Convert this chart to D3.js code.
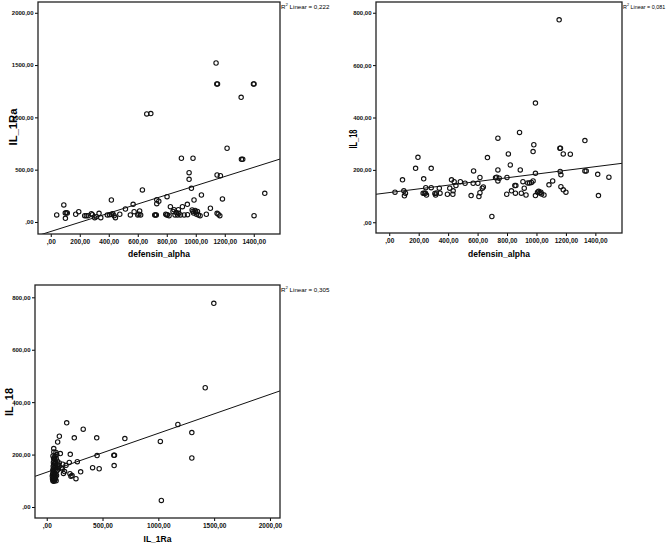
<!DOCTYPE html>
<html>
<head>
<meta charset="utf-8">
<script src="https://cdn.jsdelivr.net/npm/d3@7"></script>
<style>
  body { margin: 0; background: #fff; }
  svg { display: block; font-family: "Liberation Sans", Arial, sans-serif; }
  .tick text { fill: #111; font-weight: bold; }
</style>
</head>
<body>
<div id="chart"></div>
<script>

// defensin_alpha vs IL_1Ra
var defIl1ra = [
  [41,67],[90,163],[100,86],[107,89],[114,86],[101,35],[172,74],[193,98],[234,60],[245,60],
  [257,60],[280,79],[287,70],[303,41],[314,50],[333,83],[345,41],[390,67],[405,70],[418,74],
  [428,79],[437,60],[418,210],[446,41],[476,74],[515,124],[549,67],[568,169],[575,98],[600,67],
  [608,75],[613,105],[620,67],[632,306],[662,1033],[690,1036],[717,67],[722,67],[728,67],[731,175],
  [731,213],[745,198],[793,74],[800,67],[804,70],[802,242],[816,60],[825,146],[843,100],[850,118],
  [857,67],[865,90],[875,67],[883,83],[880,118],[895,67],[908,146],[901,609],[920,67],[942,169],
  [943,70],[954,471],[954,408],[970,322],[981,609],[975,115],[980,100],[985,85],[988,210],[995,110],
  [1000,95],[1005,75],[1012,100],[1018,67],[1030,60],[1039,258],[1073,74],[1101,131],[1140,1520],[1145,1320],
  [1150,1320],[1147,83],[1155,75],[1166,60],[1147,449],[1170,443],[1184,220],[1216,705],[1313,1192],[1315,599],
  [1324,599],[1398,1320],[1402,1320],[1402,60],[1476,274]
];

// defensin_alpha vs IL_18
var defIl18 = [
  [39,115],[90,162],[99,120],[103,101],[110,111],[179,206],[195,248],[234,166],[230,111],[238,111],
  [246,111],[248,132],[253,104],[285,206],[285,132],[310,110],[315,104],[320,112],[340,130],[345,111],
  [395,107],[411,130],[423,162],[432,107],[434,120],[441,155],[453,140],[483,155],[515,149],[556,102],
  [570,149],[573,196],[602,149],[609,98],[616,171],[616,113],[632,130],[639,135],[667,247],[697,22],
  [722,170],[730,172],[747,168],[738,200],[738,158],[738,321],[798,107],[800,171],[809,261],[822,219],
  [830,120],[853,140],[860,140],[857,111],[885,343],[890,200],[897,111],[908,155],[917,130],[929,104],
  [941,150],[953,150],[966,152],[977,270],[977,158],[982,296],[993,455],[993,187],[993,102],[1007,115],
  [1015,118],[1022,112],[1030,115],[1035,108],[1051,104],[1085,143],[1110,158],[1154,773],[1159,283],[1163,283],
  [1161,194],[1166,181],[1166,136],[1182,261],[1182,124],[1200,115],[1230,260],[1329,312],[1329,196],[1338,196],
  [1416,183],[1421,102],[1492,172]
];

// IL_1Ra vs IL_18
var il1raIl18 = [
  [1497,777],[1420,455],[1300,284],[1300,187],[1175,315],[1018,250],[1027,25],[700,261],[601,197],[607,197],
  [604,158],[448,264],[451,196],[470,146],[411,150],[327,297],[304,134],[274,173],[247,264],[179,321],
  [113,270],[98,248],[211,201],[208,127],[217,117],[262,108],[202,170],[173,159],[143,163],[122,204],
  [113,168],[108,153],[63,223],[83,208],[227,120],[140,145],[160,135],[130,150],[150,128],
  [55,100],[60,105],[65,110],[70,100],[58,115],[62,120],[68,125],[75,115],[52,108],[57,130],
  [63,135],[72,130],[80,125],[55,140],[60,145],[66,150],[74,140],[85,135],[58,155],[64,160],
  [70,165],[78,155],[90,150],[60,170],[66,175],[72,180],[80,170],[62,185],[70,190],[76,195],
  [85,185],[95,175],[50,118],[53,125],[67,102],[78,108],[88,120],[95,140],[100,160],[62,98],
  [71,112],[84,100],[56,195],[64,210],[90,200]
];

// fit lines: [intercept, slope]
var fitDefIl1ra = [-91, 0.438];
var fitDefIl18 = [113.3, 0.0707];
var fitIl1raIl18 = [132.6, 0.1485];

var rSquared = ["0,222", "0,081", "0,305"];

var ticksDefensin = [0, 200, 400, 600, 800, 1000, 1200, 1400];
var ticksIl1ra = [0, 500, 1000, 1500, 2000];
var ticksIl18 = [0, 200, 400, 600, 800];

var svg = d3.select("#chart")
  .append("svg")
    .attr("width", 667)
    .attr("height", 543);

function label(d) {
  return d === 0 ? ",00" : d + ",00";
}

function createScatter(p) {

  var x = d3.scaleLinear().domain(p.xDomain).range([p.left, p.right]);
  var y = d3.scaleLinear().domain(p.yDomain).range([p.bottom, p.top]);

  var g = svg.append("g");

  // clip for the fit line
  g.append("clipPath")
    .attr("id", p.id)
    .append("rect")
      .attr("x", p.left)
      .attr("y", p.top)
      .attr("width", p.right - p.left)
      .attr("height", p.bottom - p.top);

  // x-axis ticks and labels
  var xAxis = d3.axisBottom(x).tickValues(p.xTicks).tickSize(3).tickPadding(2).tickFormat(label);
  var gx = g.append("g")
    .attr("transform", "translate(0," + p.bottom + ")")
    .call(xAxis);
  gx.select(".domain").remove();
  gx.selectAll("text").style("font-size", "6.5px");

  // y-axis ticks and labels
  var yAxis = d3.axisLeft(y).tickValues(p.yTicks).tickSize(3).tickPadding(1.5).tickFormat(label);
  var gy = g.append("g")
    .attr("transform", "translate(" + p.left + ",0)")
    .call(yAxis);
  gy.select(".domain").remove();
  gy.selectAll("text").style("font-size", "6px");

  // fit line
  var x0 = p.xDomain[0], x1 = p.xDomain[1];
  g.append("line")
    .attr("clip-path", "url(#" + p.id + ")")
    .attr("x1", x(x0))
    .attr("y1", y(p.fit[0] + p.fit[1] * x0))
    .attr("x2", x(x1))
    .attr("y2", y(p.fit[0] + p.fit[1] * x1))
    .attr("stroke", "#111")
    .attr("stroke-width", 1);

  // points
  g.selectAll(".dot")
    .data(p.data)
  .enter().append("circle")
    .attr("class", "dot")
    .attr("cx", function(d) { return x(d[0]); })
    .attr("cy", function(d) { return y(d[1]); })
    .attr("r", 2.2)
    .attr("fill", "none")
    .attr("stroke", "#111")
    .attr("stroke-width", 1.1);

  // frame
  g.append("rect")
    .attr("x", p.left)
    .attr("y", p.top)
    .attr("width", p.right - p.left)
    .attr("height", p.bottom - p.top)
    .attr("fill", "none")
    .attr("stroke", "#222")
    .attr("stroke-width", 1.3);

  // axis titles
  g.append("text")
    .attr("x", (p.left + p.right) / 2)
    .attr("y", p.xTitleY)
    .attr("text-anchor", "middle")
    .style("font-size", "8.5px")
    .style("font-weight", "bold")
    .text(p.xTitle);

  g.append("text")
    .attr("transform", "translate(" + p.yTitleX + "," + p.yTitleY + ") rotate(-90)")
    .attr("text-anchor", "middle")
    .attr("dy", "0.35em")
    .attr("textLength", p.yTitleLen)
    .attr("lengthAdjust", "spacingAndGlyphs")
    .style("font-size", p.yTitleSize + "px")
    .style("font-weight", "bold")
    .text(p.yTitle);

  // r squared note
  var note = g.append("text")
    .attr("x", p.right + 1)
    .attr("y", p.top + 6.5)
    .style("font-size", p.noteSize + "px");
  note.append("tspan").text("R");
  note.append("tspan").attr("dy", -2.5).style("font-size", (p.noteSize * 0.7) + "px").text("2");
  note.append("tspan").attr("dy", 2.5).text(" Linear = " + p.r2);
}

createScatter({
  id: "c1", data: defIl1ra, fit: fitDefIl1ra, r2: rSquared[0],
  left: 38, right: 280, top: 2, bottom: 234,
  xDomain: [-88, 1581], yDomain: [-115, 2103],
  xTicks: ticksDefensin, yTicks: ticksIl1ra,
  xTitle: "defensin_alpha", xTitleY: 257,
  yTitle: "IL_1Ra", yTitleX: 13.5, yTitleY: 127, yTitleSize: 11, yTitleLen: 37,
  noteSize: 6.2
});

createScatter({
  id: "c2", data: defIl18, fit: fitDefIl18, r2: rSquared[1],
  left: 376, right: 622, top: 2, bottom: 233,
  xDomain: [-90, 1581], yDomain: [-41, 841],
  xTicks: ticksDefensin, yTicks: ticksIl18,
  xTitle: "defensin_alpha", xTitleY: 257,
  yTitle: "IL_18", yTitleX: 353.5, yTitleY: 139, yTitleSize: 10, yTitleLen: 19,
  noteSize: 5.4
});

createScatter({
  id: "c3", data: il1raIl18, fit: fitIl1raIl18, r2: rSquared[2],
  left: 35, right: 280, top: 285, bottom: 518,
  xDomain: [-105, 2090], yDomain: [-42, 847],
  xTicks: ticksIl1ra, yTicks: ticksIl18,
  xTitle: "IL_1Ra", xTitleY: 541.5,
  yTitle: "IL_18", yTitleX: 9.5, yTitleY: 402, yTitleSize: 11, yTitleLen: 28,
  noteSize: 6.2
});

</script>
</body>
</html>
